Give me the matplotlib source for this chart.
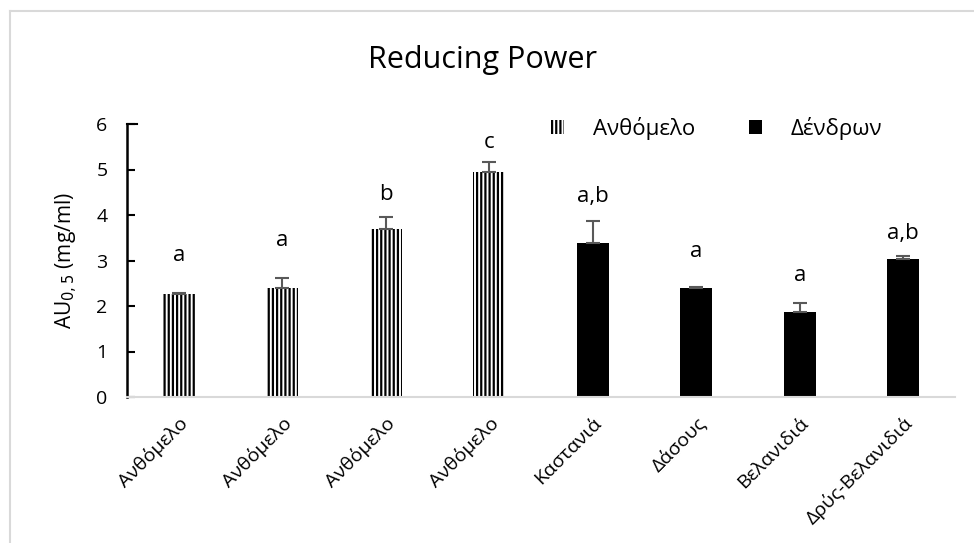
import matplotlib.pyplot as plt
from matplotlib.lines import Line2D
from matplotlib.patches import Patch

plt.rcParams['font.family'] = ['Open Sans', 'DejaVu Sans']
plt.rcParams['hatch.linewidth'] = 1.6

# Data
categories = ['Ανθόμελο', 'Ανθόμελο', 'Ανθόμελο', 'Ανθόμελο',
              'Καστανιά', 'Δάσους', 'Βελανιδιά', 'Δρύς-Βελανιδιά']
values = [2.26, 2.40, 3.69, 4.95, 3.39, 2.39, 1.86, 3.03]
errors = [0.03, 0.22, 0.26, 0.21, 0.47, 0.02, 0.21, 0.07]
groups = ['Ανθόμελο'] * 4 + ['Δένδρων'] * 4
letters = ['a', 'a', 'b', 'c', 'a,b', 'a', 'a', 'a,b']
letter_y = [3.12, 3.45, 4.44, 5.60, 4.40, 3.19, 2.68, 3.60]

fig = plt.figure(figsize=(9.74, 5.43), dpi=100)
ax = fig.add_axes([127 / 974, 1 - 397 / 543, 828 / 974, 273 / 543])

x = list(range(len(values)))
for i in x:
    if groups[i] == 'Ανθόμελο':
        ax.bar(i, values[i], width=0.31, color='white', edgecolor='black',
               hatch='||||', linewidth=0)
    else:
        ax.bar(i, values[i], width=0.31, color='black', linewidth=0)
    ax.errorbar(i, values[i], yerr=[[0], [errors[i]]], fmt='none',
                ecolor='#595959', elinewidth=1.5, capsize=5, capthick=1.5)
    ax.text(i, letter_y[i], letters[i], ha='center', va='center', fontsize=16)

ax.set_xlim(-0.5, 7.5)
ax.set_ylim(0, 6)
ax.set_yticks(range(7))
ax.set_xticks(x)
ax.set_xticklabels(categories, rotation=45, ha='right', rotation_mode='anchor',
                   fontsize=14)
ax.tick_params(axis='x', length=0, pad=12)
ax.tick_params(axis='y', direction='in', length=6, width=1.5, labelsize=14, pad=14)
for s in ['top', 'right']:
    ax.spines[s].set_visible(False)
ax.spines['left'].set_linewidth(1.8)
ax.spines['bottom'].set_color('#d9d9d9')
ax.spines['bottom'].set_linewidth(1.5)
ax.plot([0, 0.012], [6, 6], color='black', lw=1.5, transform=ax.get_yaxis_transform(),
        clip_on=False)

ax.set_ylabel('AU$_{0,5}$ (mg/ml)', fontsize=15, labelpad=12)
fig.text(483 / 974, 1 - 60 / 543, 'Reducing Power', ha='center', va='center', fontsize=22)

handles = [Patch(facecolor='white', edgecolor='black', hatch='||||', linewidth=0),
           Patch(facecolor='black', linewidth=0)]
ax.legend(handles, ['Ανθόμελο', 'Δένδρων'], loc='center', bbox_to_anchor=(0.712, 0.985),
          ncol=2, frameon=False, fontsize=16, handlelength=0.6, handleheight=0.6,
          columnspacing=2.4, handletextpad=1.3)

# light border at top and left of the picture
fig.add_artist(Line2D([10 / 974, 10 / 974], [0, 1 - 11 / 543], color='#d9d9d9', lw=1.5))
fig.add_artist(Line2D([10 / 974, 1], [1 - 11 / 543, 1 - 11 / 543], color='#d9d9d9', lw=1.5))

fig.savefig('out.png', dpi=100)
